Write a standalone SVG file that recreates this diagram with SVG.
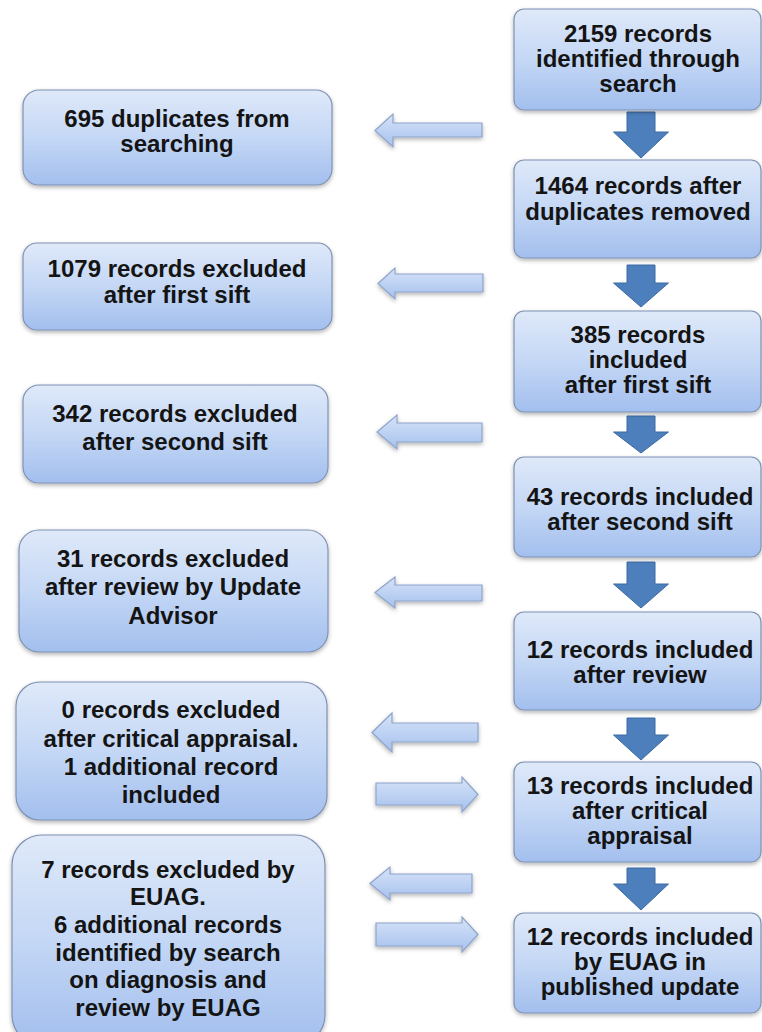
<svg xmlns="http://www.w3.org/2000/svg" width="762" height="1032" viewBox="0 0 762 1032">
<defs>
<linearGradient id="gBox" x1="0" y1="0" x2="0" y2="1">
<stop offset="0" stop-color="#dfe9f9"/>
<stop offset="0.5" stop-color="#c4d7f5"/>
<stop offset="1" stop-color="#a3bfee"/>
</linearGradient>
<linearGradient id="gArr" x1="0" y1="0" x2="0" y2="1">
<stop offset="0" stop-color="#d6e3f8"/>
<stop offset="1" stop-color="#a6c1ee"/>
</linearGradient>
<filter id="sh" x="-10%" y="-10%" width="120%" height="130%">
<feDropShadow dx="0" dy="2" stdDeviation="2" flood-color="#000" flood-opacity="0.3"/>
</filter>
</defs>
<style>
.box{fill:url(#gBox);stroke:#7f92b3;stroke-width:1.2;filter:url(#sh)}
.harr{fill:url(#gArr);stroke:#8ea4c9;stroke-width:1.2;filter:url(#sh)}
.darr{fill:#4d7fbd;stroke:#3d6aa3;stroke-width:1}
text{font-family:"Liberation Sans",Arial,sans-serif;font-weight:bold;font-size:24px;fill:#141414;text-anchor:middle}
</style>
<rect width="762" height="1032" fill="#ffffff"/>

<g id="connectors">
<path class="darr" d="M627,112 H655 V132 H668.5 L641,158 L613.5,132 H627 Z"/>
<path class="darr" d="M627,265 H655 V283 H668.5 L641,307 L613.5,283 H627 Z"/>
<path class="darr" d="M627,416 H655 V432 H668.5 L641,453 L613.5,432 H627 Z"/>
<path class="darr" d="M627,562 H655 V584 H668.5 L641,608 L613.5,584 H627 Z"/>
<path class="darr" d="M627,718 H655 V735 H668.5 L641,760 L613.5,735 H627 Z"/>
<path class="darr" d="M627,868 H655 V884 H668.5 L641,910 L613.5,884 H627 Z"/>

<path class="harr" d="M375,130.5 L393,114 V123 H482 V137 H393 V147 Z"/>
<path class="harr" d="M378,283.5 L395,268 V274 H483 V292 H395 V299 Z"/>
<path class="harr" d="M377,432 L397,415 V423 H482 V442 H397 V449 Z"/>
<path class="harr" d="M375,592.5 L395,577 V585 H482 V601 H395 V608 Z"/>
<path class="harr" d="M372,732.5 L392,713 V723 H478 V742 H392 V752 Z"/>
<path class="harr" d="M478,794.5 L462,777 V783 H376 V805 H462 V812 Z"/>
<path class="harr" d="M370,883.5 L390,867 V874 H472 V893 H390 V900 Z"/>
<path class="harr" d="M478,934.5 L462,917 V923 H376 V946 H462 V952 Z"/>
</g>

<g id="r1"><rect class="box" x="514" y="9" width="247" height="101" rx="10"/>
<text x="638" y="42">2159 records</text><text x="638" y="67">identified through</text><text x="638" y="92">search</text></g>
<g id="r2"><rect class="box" x="514" y="160" width="247" height="98" rx="10"/>
<text x="638" y="194">1464 records after</text><text x="638" y="220">duplicates removed</text></g>
<g id="r3"><rect class="box" x="514" y="311" width="247" height="101" rx="10"/>
<text x="638" y="343">385 records</text><text x="638" y="368">included</text><text x="638" y="393">after first  sift</text></g>
<g id="r4"><rect class="box" x="514" y="457" width="247" height="100" rx="10"/>
<text x="640" y="505">43 records included</text><text x="640" y="530">after second sift</text></g>
<g id="r5"><rect class="box" x="514" y="612" width="247" height="98" rx="10"/>
<text x="640" y="658">12 records included</text><text x="640" y="683">after review</text></g>
<g id="r6"><rect class="box" x="514" y="762" width="247" height="100" rx="10"/>
<text x="640" y="794">13 records included</text><text x="640" y="819">after critical</text><text x="640" y="844">appraisal</text></g>
<g id="r7"><rect class="box" x="514" y="913" width="247" height="100" rx="10"/>
<text x="640" y="945">12 records included</text><text x="640" y="970">by EUAG in</text><text x="640" y="995">published update</text></g>

<g id="l1"><rect class="box" x="23" y="90" width="309" height="95" rx="16"/>
<text x="177" y="127">695 duplicates from</text><text x="177" y="152">searching</text></g>
<g id="l2"><rect class="box" x="23" y="243" width="309" height="87" rx="14"/>
<text x="177" y="277">1079  records excluded</text><text x="177" y="303">after first  sift</text></g>
<g id="l3"><rect class="box" x="23" y="385" width="305" height="98" rx="16"/>
<text x="175" y="422">342 records excluded</text><text x="175" y="450">after second sift</text></g>
<g id="l4"><rect class="box" x="19" y="530" width="309" height="122" rx="20"/>
<text x="173" y="567">31 records excluded</text><text x="173" y="595">after review by Update</text><text x="173" y="624">Advisor</text></g>
<g id="l5"><rect class="box" x="16" y="682" width="311" height="138" rx="24"/>
<text x="171" y="718">0 records excluded</text><text x="171" y="747">after critical  appraisal.</text><text x="171" y="775">1 additional  record</text><text x="171" y="803">included</text></g>
<g id="l6"><rect class="box" x="12" y="835" width="313" height="210" rx="30"/>
<text x="168" y="878">7 records excluded by</text><text x="168" y="905">EUAG.</text><text x="168" y="933">6 additional  records</text><text x="168" y="961">identified by search</text><text x="168" y="988">on diagnosis and</text><text x="168" y="1016">review by EUAG</text></g>
</svg>
